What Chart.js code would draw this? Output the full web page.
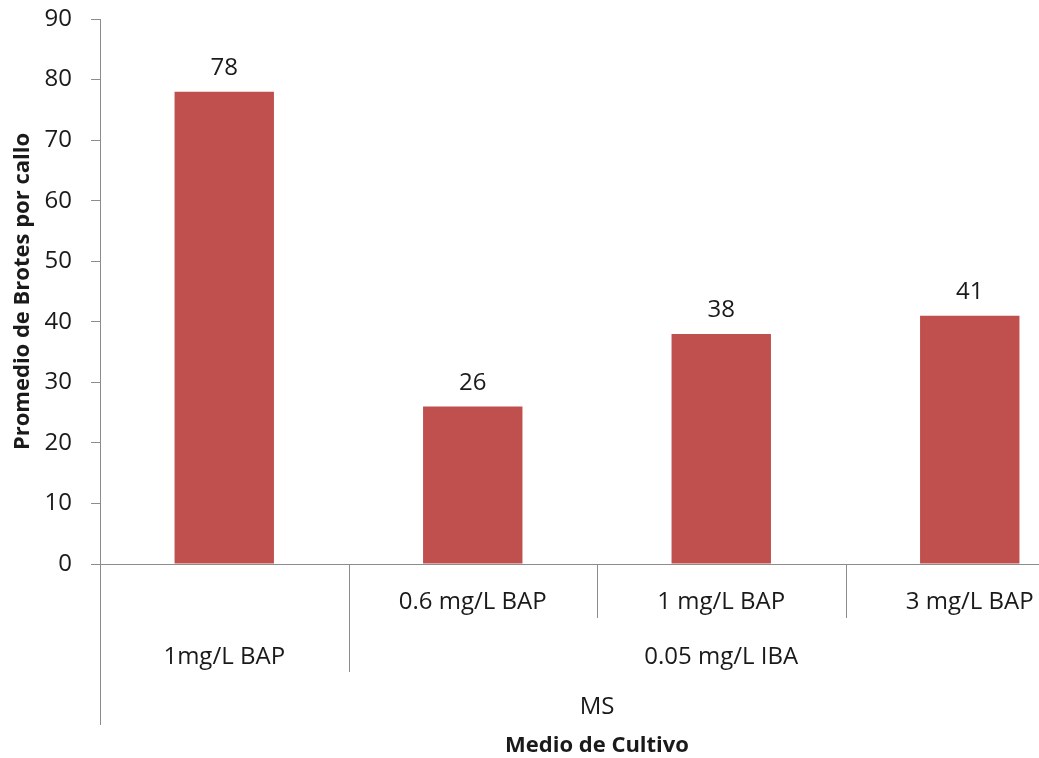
<!DOCTYPE html>
<html>
<head>
<meta charset="utf-8">
<script src="https://cdn.jsdelivr.net/npm/chart.js@4.4.1/dist/chart.umd.min.js"></script>
<style>
  html, body { margin: 0; padding: 0; background: #fff; overflow: hidden; }
  #wrap { width: 1100px; height: 758px; position: relative; }
</style>
</head>
<body>
<div id="wrap"><canvas id="c"></canvas></div>
<script>
// Treatments (innermost category level), their group labels and the medium
const treatments = ['', '0.6 mg/L BAP', '1 mg/L BAP', '3 mg/L BAP'];
const groupLabels = ['1mg/L BAP', '0.05 mg/L IBA'];
const groupSpans = [[0, 0], [1, 3]];
const mediumLabel = 'MS';
const shootsPerCallus = [78, 26, 38, 41];
const yTicks = [0, 10, 20, 30, 40, 50, 60, 70, 80, 90];

const FONT = "'Open Sans', sans-serif";
const AXIS_GREY = '#8c8c8c';
const TEXT = '#1a1a1a';

// Row bands beneath the x axis (relative to the axis line)
const ROW1_BOTTOM = 54, ROW2_BOTTOM = 108, ROW3_BOTTOM = 161;

const hierarchyAxis = {
  id: 'hierarchyAxis',
  afterDraw(chart) {
    const ctx = chart.ctx;
    const xs = chart.scales.x;
    const y0 = chart.chartArea.bottom;
    const n = treatments.length;
    const half = (xs.getPixelForValue(1) - xs.getPixelForValue(0)) / 2;
    const edgeL = i => xs.getPixelForValue(i) - half;
    const edgeR = i => xs.getPixelForValue(i) + half;
    ctx.save();
    ctx.strokeStyle = AXIS_GREY;
    ctx.lineWidth = 1;
    const vline = (x, y2) => {
      ctx.beginPath();
      ctx.moveTo(Math.round(x) + 0.5, y0);
      ctx.lineTo(Math.round(x) + 0.5, y0 + y2);
      ctx.stroke();
    };
    // outer left edge spans all three rows
    vline(edgeL(0), ROW3_BOTTOM);
    // group boundaries span two rows, inner boundaries one row
    const groupStarts = groupSpans.map(s => s[0]);
    for (let i = 1; i < n; i++) {
      vline(edgeL(i), groupStarts.includes(i) ? ROW2_BOTTOM : ROW1_BOTTOM);
    }
    ctx.fillStyle = TEXT;
    ctx.textAlign = 'center';
    ctx.textBaseline = 'middle';
    ctx.font = '24px ' + FONT;
    treatments.forEach((t, i) => {
      if (t) ctx.fillText(t, xs.getPixelForValue(i), y0 + 38);
    });
    groupLabels.forEach((g, k) => {
      const [a, b] = groupSpans[k];
      ctx.fillText(g, (edgeL(a) + edgeR(b)) / 2, y0 + 93);
    });
    ctx.fillText(mediumLabel, (edgeL(0) + edgeR(n - 1)) / 2, y0 + 143);
    ctx.font = 'bold 22px ' + FONT;
    ctx.fillText('Medio de Cultivo', (edgeL(0) + edgeR(n - 1)) / 2, y0 + 182);
    ctx.restore();
  }
};

const valueLabels = {
  id: 'valueLabels',
  afterDatasetsDraw(chart) {
    const ctx = chart.ctx;
    const meta = chart.getDatasetMeta(0);
    ctx.save();
    ctx.fillStyle = TEXT;
    ctx.font = '24px ' + FONT;
    ctx.textAlign = 'center';
    ctx.textBaseline = 'alphabetic';
    meta.data.forEach((bar, i) => {
      ctx.fillText(String(shootsPerCallus[i]), bar.x, bar.y - 17);
    });
    ctx.restore();
  }
};

new Chart(document.getElementById('c'), {
  type: 'bar',
  data: {
    labels: treatments,
    datasets: [{
      data: shootsPerCallus,
      backgroundColor: '#C0504D',
      borderWidth: 0,
      categoryPercentage: 1,
      barPercentage: 0.4
    }]
  },
  options: {
    responsive: true,
    maintainAspectRatio: false,
    animation: false,
    layout: { padding: { top: 19, right: 6, left: 0, bottom: 0 } },
    plugins: { legend: { display: false }, tooltip: { enabled: false } },
    scales: {
      x: {
        grid: { display: false, drawTicks: false },
        border: { display: true, color: AXIS_GREY, width: 1 },
        ticks: { display: false },
        afterFit(scale) { scale.height = 194; }
      },
      y: {
        min: 0, max: 90,
        afterBuildTicks(scale) { scale.ticks = yTicks.map(v => ({ value: v })); },
        grid: { drawOnChartArea: false, drawTicks: true, tickLength: 9, color: AXIS_GREY },
        border: { display: true, color: AXIS_GREY, width: 1 },
        ticks: { color: TEXT, padding: 19, font: { family: FONT, size: 24 } },
        title: {
          display: true,
          text: 'Promedio de Brotes por callo',
          color: TEXT,
          font: { family: FONT, size: 22, weight: 'bold' },
          padding: { top: 10, bottom: 0 }
        },
        afterFit(scale) {
          scale.width = 100;
          scale.paddingTop = 0;
          scale.paddingBottom = 0;
        }
      }
    }
  },
  plugins: [hierarchyAxis, valueLabels]
});
</script>
</body>
</html>
